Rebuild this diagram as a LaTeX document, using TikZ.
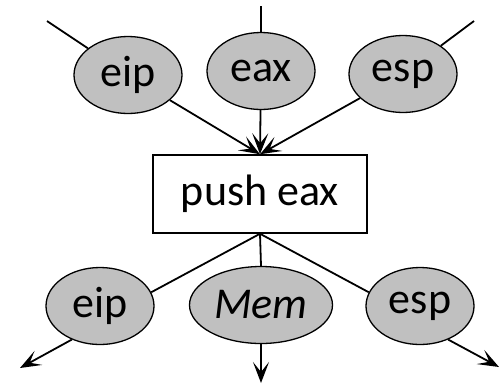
\documentclass[tikz,border=0pt]{standalone}
\usepackage{fontspec}
\setmainfont{Carlito}
\usetikzlibrary{arrows.meta,shapes.geometric}
\tikzset{
  reg/.style={ellipse, draw=black, line width=1.3pt, fill=regfill,
    inner sep=0pt, minimum width=108pt, minimum height=77pt,
    font=\fontsize{44}{48}\selectfont},
  instr/.style={rectangle, draw=black, line width=1.5pt, fill=white,
    inner sep=0pt, minimum width=214pt, minimum height=78pt,
    font=\fontsize{44}{48}\selectfont},
  wire/.style={line width=1.8pt},
  flow/.style={line width=1.8pt, -{Stealth[length=21pt,width=16pt,inset=10pt]}},
}
\definecolor{regfill}{RGB}{192,192,192}
\begin{document}
\begin{tikzpicture}[x=1pt,y=-1pt]
  \useasboundingbox (0,0) rectangle (500,384);

  % instruction
  \node[instr] (push) at (260,194) {push eax};

  % inputs
  \node[reg] (ineip) at (128,75) {eip};
  \node[reg] (ineax) at (261,71) {eax};
  \node[reg] (inesp) at (403,74) {esp};

  % outputs
  \node[reg] (outeip) at (100,306) {eip};
  \node[reg, minimum width=143pt] (outmem) at (261,305) {\itshape Mem};
  \node[reg] (outesp) at (420,306) {esp};

  % loose ends of the incoming and outgoing edges
  \coordinate (srceip) at (47,21);
  \coordinate (srceax) at (261,6);
  \coordinate (srcesp) at (474,21);
  \coordinate (dsteip) at (20,368);
  \coordinate (dstmem) at (261,383);
  \coordinate (dstesp) at (499,367);

  % incoming edges
  \draw[wire] (srceip) -- (ineip);
  \draw[wire] (srceax) -- (ineax);
  \draw[wire] (srcesp) -- (inesp);

  % registers read by the instruction
  \draw[flow] (ineip) -- (push.north);
  \draw[flow] (ineax) -- (push.north);
  \draw[flow] (inesp) -- (push.north);

  % values written by the instruction
  \draw[wire] (push.south) -- (outeip.15);
  \draw[wire] (push.south) -- (outmem.north);
  \draw[wire] (push.south) -- (outesp.165);

  % outgoing edges
  \draw[flow] (outeip.-130) -- (dsteip);
  \draw[flow] (outmem.south) -- (dstmem);
  \draw[flow] (outesp.-50) -- (dstesp);
\end{tikzpicture}
\end{document}
